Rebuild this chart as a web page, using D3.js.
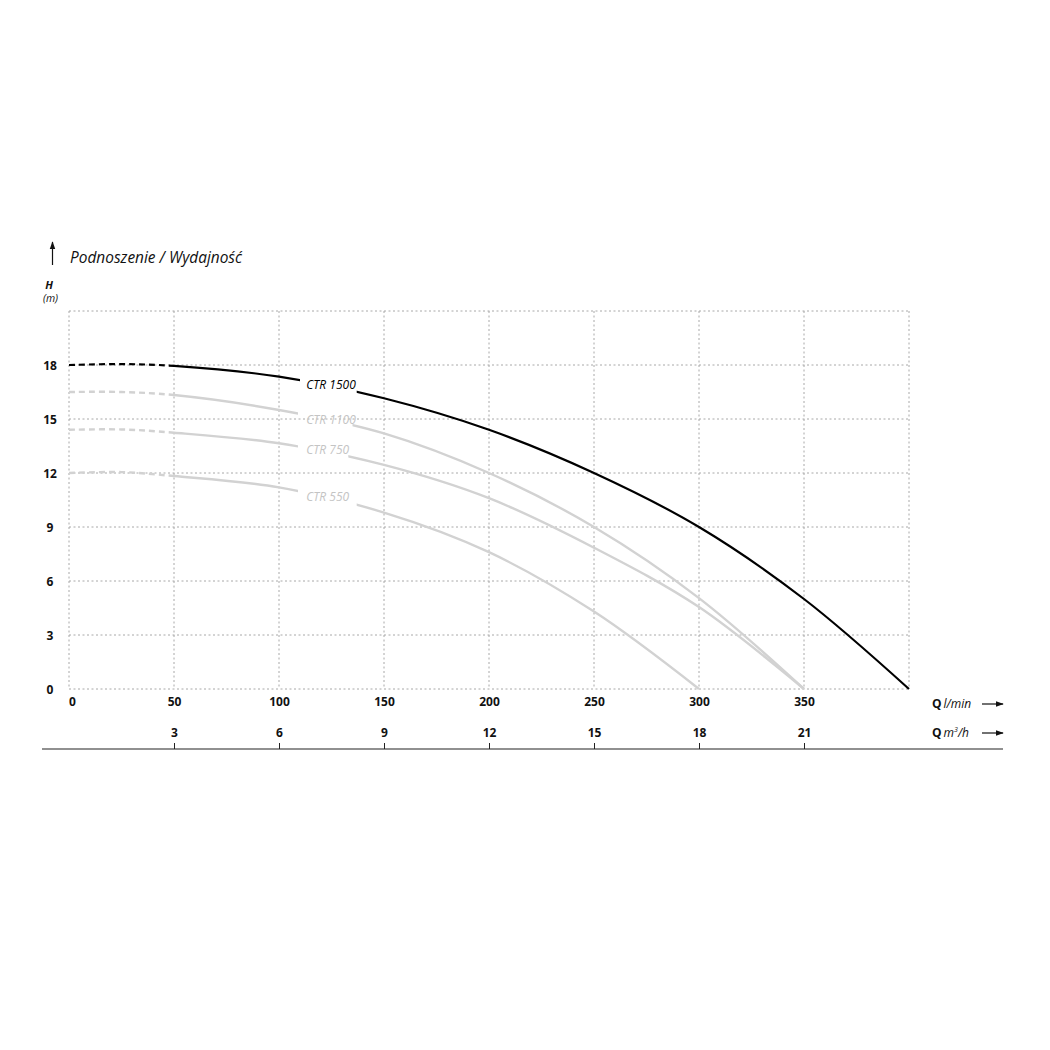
<!DOCTYPE html>
<html>
<head>
<meta charset="utf-8">
<script src="https://cdn.jsdelivr.net/npm/d3@7"></script>
<style>
  html, body { margin: 0; padding: 0; background: #fff; }
  svg { display: block; }
  text { font-family: "Open Sans", "Noto Sans", sans-serif; }
</style>
</head>
<body>
<svg id="chart" width="1050" height="1050"></svg>
<script>
// ---------- data ----------
const qTicks = [0, 50, 100, 150, 200, 250, 300, 350];
const mTicks = [3, 6, 9, 12, 15, 18, 21];
const hTicks = [0, 3, 6, 9, 12, 15, 18];

const seriesNames = ["CTR 1500", "CTR 1100", "CTR 750", "CTR 550"];

const q1500 = [0, 25, 50, 100, 150, 200, 250, 300, 350, 400];
const h1500 = [18.0, 18.05, 17.95, 17.35, 16.15, 14.4, 12.0, 9.0, 5.0, 0];

const q1100 = [0, 25, 50, 100, 150, 200, 250, 300, 350];
const h1100 = [16.5, 16.5, 16.33, 15.5, 14.2, 12.0, 9.0, 5.05, 0];

const q750 = [0, 25, 50, 100, 150, 200, 250, 300, 350];
const h750 = [14.4, 14.42, 14.24, 13.65, 12.45, 10.6, 7.85, 4.55, 0];

const q550 = [0, 25, 50, 100, 150, 200, 250, 300];
const h550 = [12.0, 12.05, 11.83, 11.2, 9.8, 7.6, 4.3, 0];

// ---------- layout ----------
const svg = d3.select("#chart");
const x = d3.scaleLinear().domain([0, 400]).range([69, 909]);
const xm = d3.scaleLinear().domain([0, 24]).range([69, 909]);   // 400 l/min = 24 m3/h
const y = d3.scaleLinear().domain([0, 21]).range([689, 311]);

const gridColor = "#a8a8a8";

// grid
const grid = svg.append("g").attr("stroke", gridColor).attr("stroke-width", 1)
  .attr("stroke-dasharray", "2,2.5").attr("fill", "none");
d3.range(0, 401, 50).forEach(v => {
  grid.append("line").attr("x1", x(v)).attr("x2", x(v)).attr("y1", y(21)).attr("y2", y(0));
});
d3.range(0, 22, 3).forEach(v => {
  grid.append("line").attr("x1", x(0)).attr("x2", x(400)).attr("y1", y(v)).attr("y2", y(v));
});

// y axis labels
const yAxis = d3.axisLeft(y).tickValues(hTicks).tickSize(0).tickPadding(0).tickFormat(d3.format("d"));
const gy = svg.append("g").attr("transform", "translate(50,0)").call(yAxis);
gy.select(".domain").remove();
gy.selectAll("text").attr("text-anchor", "middle").attr("font-size", 12).attr("font-weight", "bold")
  .attr("fill", "#111").attr("dy", "0.36em").attr("font-family", "'Open Sans', sans-serif");

// x axis labels (l/min)
const xAxis = d3.axisBottom(x).tickValues(qTicks).tickSize(0).tickPadding(0).tickFormat(d3.format("d"));
const gx = svg.append("g").attr("transform", "translate(0,697)").call(xAxis);
gx.select(".domain").remove();
gx.selectAll("text").attr("font-size", 12).attr("font-weight", "bold").attr("fill", "#111")
  .attr("dy", "0.71em").attr("font-family", "'Open Sans', sans-serif");
gx.selectAll(".tick").filter(d => d === 0).select("text").attr("dx", 3);

// m3/h axis
const mAxis = d3.axisBottom(xm).tickValues(mTicks).tickSize(-6).tickPadding(0).tickFormat(d3.format("d"));
const gm = svg.append("g").attr("transform", "translate(0,749)").call(mAxis);
gm.select(".domain").remove();
gm.selectAll(".tick line").attr("stroke", "#222").attr("stroke-width", 1);
gm.selectAll("text").attr("font-size", 12).attr("font-weight", "bold").attr("fill", "#111")
  .attr("dy", "-12px").attr("font-family", "'Open Sans', sans-serif");
svg.append("line").attr("x1", 42).attr("x2", 1003).attr("y1", 749).attr("y2", 749)
  .attr("stroke", "#222").attr("stroke-width", 1.2);

// arrow marker
const defs = svg.append("defs");
defs.append("marker").attr("id", "arr").attr("viewBox", "0 0 10 10").attr("refX", 9).attr("refY", 5)
  .attr("markerWidth", 8).attr("markerHeight", 8).attr("markerUnits", "userSpaceOnUse").attr("orient", "auto")
  .append("path").attr("d", "M0,1.5 L10,5 L0,8.5 Z").attr("fill", "#111");

// right-side axis titles
function qTitle(yy, unitParts) {
  const t = svg.append("text").attr("x", 932).attr("y", yy).attr("font-size", 12).attr("fill", "#111");
  t.append("tspan").attr("font-weight", "bold").text("Q");
  unitParts(t);
}
qTitle(708, t => t.append("tspan").attr("font-style", "italic").attr("dx", 2).text("l/min"));
qTitle(737, t => {
  t.append("tspan").attr("font-style", "italic").attr("dx", 2).text("m");
  t.append("tspan").attr("font-style", "italic").attr("font-size", 7).attr("dy", -5).text("3");
  t.append("tspan").attr("font-style", "italic").attr("dy", 5).text("/h");
});
svg.append("line").attr("x1", 982).attr("x2", 1003).attr("y1", 704).attr("y2", 704)
  .attr("stroke", "#111").attr("stroke-width", 1.2).attr("marker-end", "url(#arr)");
svg.append("line").attr("x1", 982).attr("x2", 1003).attr("y1", 733).attr("y2", 733)
  .attr("stroke", "#111").attr("stroke-width", 1.2).attr("marker-end", "url(#arr)");

// title + H axis
svg.append("line").attr("x1", 52.5).attr("x2", 52.5).attr("y1", 265).attr("y2", 242)
  .attr("stroke", "#111").attr("stroke-width", 1.2).attr("marker-end", "url(#arr)");
svg.append("text").attr("x", 70).attr("y", 263).attr("font-size", 15.5).attr("font-style", "italic")
  .attr("fill", "#111").attr("textLength", 172).attr("lengthAdjust", "spacingAndGlyphs")
  .text("Podnoszenie / Wydajność");
svg.append("text").attr("x", 49).attr("y", 289).attr("text-anchor", "middle").attr("font-size", 11)
  .attr("font-weight", "bold").attr("font-style", "italic").attr("fill", "#111").text("H");
svg.append("text").attr("x", 50.5).attr("y", 302).attr("text-anchor", "middle").attr("font-size", 10.5)
  .attr("font-style", "italic").attr("fill", "#111").text("(m)");

// ---------- curves ----------
const series = [
  { name: seriesNames[0], q: q1500, h: h1500, color: "#000", text: "#000", gap: [110, 137], lab: 16.68 },
  { name: seriesNames[1], q: q1100, h: h1100, color: "#d2d2d2", text: "#c4c4c4", gap: [109, 135], lab: 14.73 },
  { name: seriesNames[2], q: q750,  h: h750,  color: "#d2d2d2", text: "#c4c4c4", gap: [109, 133], lab: 13.06 },
  { name: seriesNames[3], q: q550,  h: h550,  color: "#d2d2d2", text: "#c4c4c4", gap: [109, 137], lab: 10.44 }
];

const line = d3.line().x(d => x(d[0])).y(d => y(d[1])).curve(d3.curveCatmullRom.alpha(0.5));

// draw grey first, black on top
series.slice().reverse().forEach((s, i) => {
  const pts = s.q.map((q, k) => [q, s.h[k]]);
  const d = line(pts);
  const id = "c" + i;
  const segs = [
    { from: 0, to: 50, dash: "6,4" },
    { from: 50, to: s.gap[0], dash: null },
    { from: s.gap[1], to: 400, dash: null }
  ];
  segs.forEach((sg, j) => {
    const cid = id + "_" + j;
    defs.append("clipPath").attr("id", cid).append("rect")
      .attr("x", x(sg.from)).attr("y", 250).attr("width", x(sg.to) - x(sg.from) + (j === 2 ? 10 : 0))
      .attr("height", 460);
    svg.append("path").attr("d", d).attr("fill", "none").attr("stroke", s.color)
      .attr("stroke-width", s.color === "#000" ? 2.2 : 2.4)
      .attr("stroke-dasharray", sg.dash).attr("clip-path", "url(#" + cid + ")");
  });
  svg.append("text").attr("x", x(113)).attr("y", y(s.lab)).attr("font-size", 12)
    .attr("font-style", "italic").attr("fill", s.text).text(s.name);
});
</script>
</body>
</html>
